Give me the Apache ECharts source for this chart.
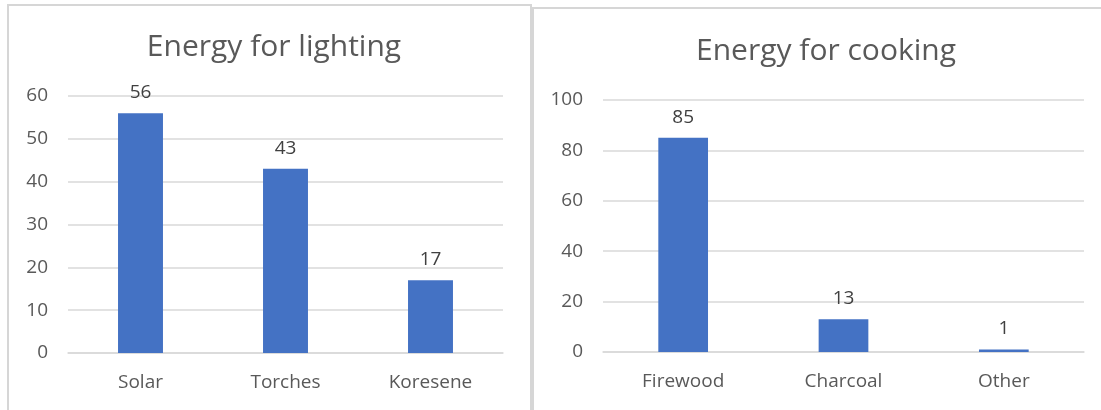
<!DOCTYPE html>
<html>
<head>
<meta charset="utf-8">
<script src="https://cdn.jsdelivr.net/npm/echarts@6/dist/echarts.min.js"></script>
<style>
  html, body { margin: 0; padding: 0; background: #fff; overflow: hidden; }
  #wrap { position: relative; width: 1101px; height: 410px; }
  .panel { position: absolute; border: 2px solid #d6d6d6; box-sizing: border-box; }
  #chart { position: absolute; left: 0; top: 0; width: 1101px; height: 410px; }
</style>
</head>
<body>
<div id="wrap">
  <div class="panel" style="left:7px; top:4px; width:525px; height:430px;"></div>
  <div class="panel" style="left:532px; top:7px; width:600px; height:430px;"></div>
  <div id="chart"></div>
</div>
<script>
const lightingCategories = ['Solar', 'Torches', 'Koresene'];
const lightingValues = [56, 43, 17];
const cookingCategories = ['Firewood', 'Charcoal', 'Other'];
const cookingValues = [85, 13, 1];

const font = '"Open Sans", "Noto Sans", sans-serif';
const gridColor = '#d9d9d9';
const labelColor = '#595959';
const barColor = '#4472C4';

function xAxisFor(idx, cats) {
  return {
    type: 'category',
    gridIndex: idx,
    data: cats,
    axisLine: { lineStyle: { color: gridColor, width: 1.5 } },
    axisTick: { show: false },
    axisLabel: { color: labelColor, fontSize: 19, fontFamily: font, margin: 20 },
  };
}

function yAxisFor(idx, max, interval) {
  return {
    type: 'value',
    gridIndex: idx,
    min: 0,
    max: max,
    interval: interval,
    axisLine: { show: false },
    axisTick: { show: false },
    splitLine: { lineStyle: { color: gridColor, width: 1.5 } },
    axisLabel: { color: labelColor, fontSize: 19, fontFamily: font, margin: 20 },
  };
}

function barSeries(idx, values) {
  return {
    type: 'bar',
    xAxisIndex: idx,
    yAxisIndex: idx,
    data: values,
    barWidth: '31%',
    itemStyle: { color: barColor },
    label: {
      show: true,
      position: 'top',
      distance: 11,
      color: '#404040',
      fontSize: 19,
      fontFamily: font,
    },
  };
}

const chart = echarts.init(document.getElementById('chart'));
chart.setOption({
  animation: false,
  title: [
    {
      text: 'Energy for lighting',
      left: 269,
      top: 27,
      textAlign: 'center',
      textStyle: { color: labelColor, fontSize: 30, fontWeight: 'normal', fontFamily: font },
    },
    {
      text: 'Energy for cooking',
      left: 821,
      top: 31,
      textAlign: 'center',
      textStyle: { color: labelColor, fontSize: 30, fontWeight: 'normal', fontFamily: font },
    },
  ],
  grid: [
    { left: 68, top: 96, width: 435, height: 257 },
    { left: 603, top: 100, width: 481, height: 252 },
  ],
  xAxis: [xAxisFor(0, lightingCategories), xAxisFor(1, cookingCategories)],
  yAxis: [yAxisFor(0, 60, 10), yAxisFor(1, 100, 20)],
  series: [barSeries(0, lightingValues), barSeries(1, cookingValues)],
});
</script>
</body>
</html>
